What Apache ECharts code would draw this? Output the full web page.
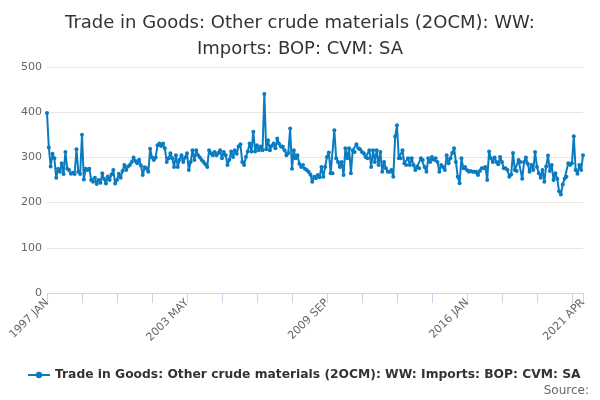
<!DOCTYPE html>
<html>
<head>
<meta charset="utf-8">
<script src="https://cdn.jsdelivr.net/npm/echarts@6/dist/echarts.min.js"></script>
<style>
  html, body { margin: 0; padding: 0; background: #fff; }
  #chart { width: 600px; height: 400px; }
</style>
</head>
<body>
<div id="chart"></div>
<script>
// monthly values, 1997 JAN .. 2021 APR
var years = [1997,1998,1999,2000,2001,2002,2003,2004,2005,2006,2007,2008,2009,2010,2011,2012,2013,2014,2015,2016,2017,2018,2019,2020,2021];
var months = ["JAN","FEB","MAR","APR","MAY","JUN","JUL","AUG","SEP","OCT","NOV","DEC"];
var imports = [
  398, 322, 280, 308, 298, 255, 275, 268, 287, 263, 312, 275,
  272, 264, 266, 263, 318, 268, 263, 350, 251, 275, 272, 275,
  250, 246, 255, 241, 250, 244, 265, 252, 242, 258, 250, 262,
  272, 242, 250, 264, 255, 270, 283, 272, 280, 283, 290, 300,
  292, 287, 295, 282, 261, 278, 276, 268, 319, 300, 294, 300,
  327, 331, 325, 331, 320, 290, 298, 309, 298, 279, 305, 279,
  295, 305, 290, 300, 309, 272, 290, 316, 294, 316, 305, 300,
  294, 290, 285, 279, 316, 309, 305, 312, 305, 310, 316, 298,
  312, 305, 283, 295, 313, 301, 316, 308, 324, 329, 290, 283,
  301, 313, 331, 313, 357, 313, 327, 316, 324, 316, 440, 318,
  338, 316, 325, 331, 320, 342, 330, 324, 324, 316, 305, 310,
  364, 275, 316, 298, 305, 286, 279, 283, 275, 272, 268, 262,
  246, 257, 254, 261, 256, 279, 257, 279, 301, 311, 265, 265,
  360, 298, 290, 279, 290, 261, 320, 298, 320, 265, 316, 312,
  329, 320, 318, 312, 309, 301, 298, 316, 279, 316, 290, 316,
  283, 312, 268, 290, 276, 268, 268, 272, 257, 346, 371, 298,
  298, 316, 287, 283, 298, 283, 298, 283, 272, 280, 276, 298,
  294, 279, 268, 298, 290, 301, 295, 298, 290, 268, 283, 279,
  272, 305, 287, 298, 310, 320, 290, 257, 243, 298, 276, 279,
  272, 268, 270, 268, 268, 268, 261, 270, 276, 276, 279, 250,
  313, 298, 290, 300, 290, 285, 301, 290, 276, 276, 272, 257,
  262, 310, 272, 270, 294, 290, 253, 290, 300, 286, 268, 283,
  272, 312, 279, 265, 255, 272, 246, 280, 304, 270, 283, 250,
  265, 253, 225, 218, 240, 253, 257, 287, 283, 287, 347, 272,
  264, 283, 272, 305
];
var seriesName = "Trade in Goods: Other crude materials (2OCM): WW: Imports: BOP: CVM: SA";

var categories = [];
years.forEach(function(y){
    months.forEach(function(m){
        if(categories.length < imports.length){
            categories.push(y + " " + m);
        }
    });
});
var lastIdx = categories.length - 1;

var myChart = echarts.init(document.getElementById("chart"));
myChart.setOption({
    animation: false,
    textStyle: { fontFamily: "DejaVu Sans" },
    title: {
        text: "Trade in Goods: Other crude materials (2OCM): WW:\nImports: BOP: CVM: SA",
        left: "center",
        top: 5,
        textStyle: { fontSize: 18, fontWeight: "normal", color: "#333", lineHeight: 26, fontFamily: "DejaVu Sans" }
    },
    grid: { left: 47, right: 17, top: 67, bottom: 107 },
    legend: {
        bottom: 14,
        left: 22,
        itemWidth: 22,
        itemHeight: 8,
        itemGap: 4,
        textStyle: { fontSize: 12.3, fontWeight: "bold", color: "#333" },
        data: [seriesName]
    },
    graphic: [{
        type: "text",
        right: 11,
        bottom: 3,
        style: { text: "Source:", fontSize: 12, fill: "#666", fontFamily: "DejaVu Sans" }
    }],
    xAxis: {
        type: "category",
        data: categories,
        boundaryGap: false,
        axisLine: { lineStyle: { color: "#ccd6eb" } },
        axisTick: {
            length: 10,
            lineStyle: { color: "#ccd6eb" },
            interval: function(idx){ return idx % 19 === 0 || idx === lastIdx; }
        },
        axisLabel: {
            rotate: 45,
            color: "#666",
            fontSize: 11,
            margin: 8,
            interval: function(idx){ return idx % 76 === 0 || idx === lastIdx; }
        }
    },
    yAxis: {
        type: "value",
        min: 0,
        max: 500,
        interval: 100,
        axisLine: { show: false },
        axisTick: { show: false },
        axisLabel: { color: "#666", fontSize: 11, margin: 5 },
        splitLine: { lineStyle: { color: "#e6e6e6" } }
    },
    series: [{
        name: seriesName,
        type: "line",
        data: imports,
        color: "#0b7bc1",
        lineStyle: { width: 2 },
        symbol: "circle",
        symbolSize: 4,
        showAllSymbol: true
    }]
});
</script>
</body>
</html>
